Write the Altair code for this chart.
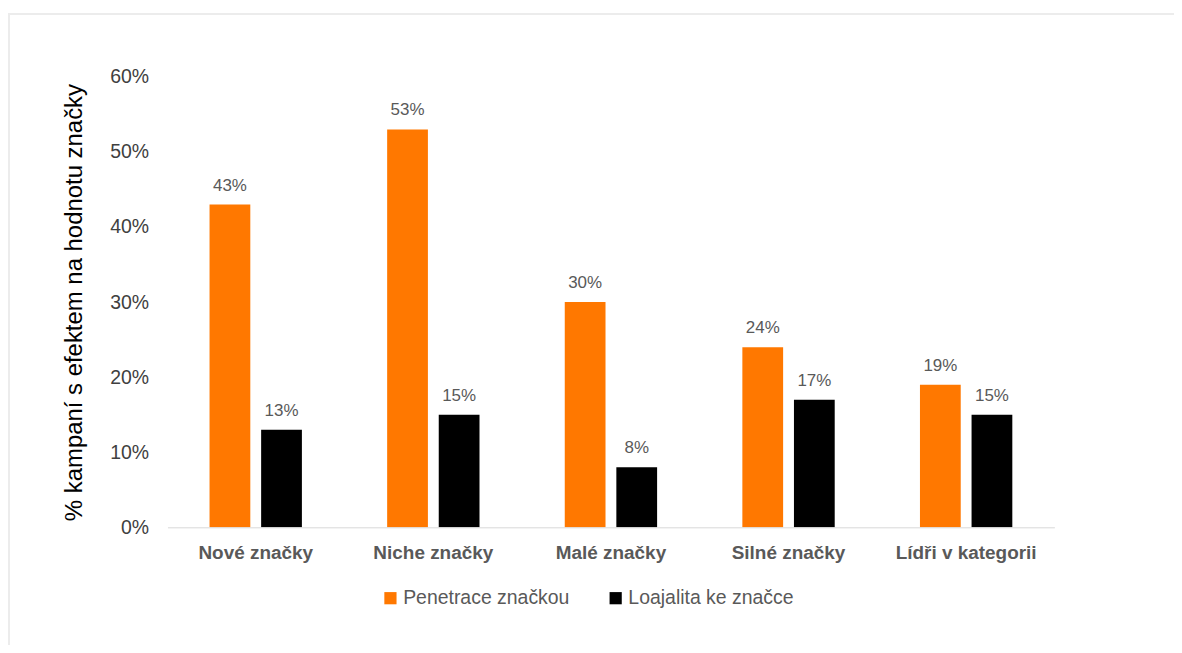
import altair as alt
import pandas as pd

categories = ["Nové značky", "Niche značky", "Malé značky", "Silné značky", "Lídři v kategorii"]
series = ["Penetrace značkou", "Loajalita ke značce"]
penetrace = [0.43, 0.53, 0.30, 0.24, 0.19]
loajalita = [0.13, 0.15, 0.08, 0.17, 0.15]
colors = ["#FF7800", "#000000"]

rows = []
for i, c in enumerate(categories):
    rows.append({"kategorie": c, "serie": series[0], "hodnota": penetrace[i]})
    rows.append({"kategorie": c, "serie": series[1], "hodnota": loajalita[i]})
df = pd.DataFrame(rows)

W, H = 890, 452

x_enc = alt.X("kategorie:N", sort=categories, title=None,
              scale=alt.Scale(paddingInner=0.48, paddingOuter=0.237),
              axis=alt.Axis(labelAngle=0, labelFontWeight="bold", labelFontSize=19,
                            labelColor="#595959", labelFont="Liberation Sans",
                            ticks=False, domainColor="#d9d9d9", domainWidth=1,
                            labelPadding=16, zindex=1))
xoff = alt.XOffset("serie:N", sort=series, scale=alt.Scale(paddingInner=0.21, paddingOuter=0))
y_enc = alt.Y("hodnota:Q", title="% kampaní s efektem na hodnotu značky",
              scale=alt.Scale(domain=[0, 0.6]),
              axis=alt.Axis(format=".0%", values=[0, 0.1, 0.2, 0.3, 0.4, 0.5, 0.6],
                            grid=False, domain=False, ticks=False,
                            labelFontSize=19.5, labelColor="#404040", labelFont="Liberation Sans",
                            labelPadding=19, titleFontSize=24, titleFontWeight="normal",
                            titleColor="#000000", titleFont="Liberation Sans",
                            titlePadding=23, zindex=1))

base = alt.Chart(df)

frame = alt.Chart(pd.DataFrame({"a": [0]})).mark_rect(
    fillOpacity=0, stroke="#ececec", strokeWidth=2
).encode(x=alt.value(-159), x2=alt.value(W + 400), y=alt.value(-63), y2=alt.value(H + 400))

bars = base.mark_bar().encode(
    x=x_enc,
    xOffset=xoff,
    y=y_enc,
    color=alt.Color("serie:N", sort=series,
                    scale=alt.Scale(domain=series, range=colors),
                    legend=alt.Legend(title=None, orient="none", direction="horizontal",
                                      legendX=214, legendY=513,
                                      symbolType="square", symbolSize=150,
                                      symbolStrokeWidth=0, labelFontSize=19.5,
                                      labelColor="#595959", labelFont="Liberation Sans",
                                      labelOffset=3, columnPadding=36, labelLimit=400)),
)

labels = base.mark_text(dy=-19, fontSize=17, color="#595959", font="Liberation Sans").encode(
    x=alt.X("kategorie:N", sort=categories),
    xOffset=alt.XOffset("serie:N", sort=series),
    y="hodnota:Q",
    text=alt.Text("hodnota:Q", format=".0%"),
)

chart = alt.layer(frame, bars, labels).properties(
    width=W, height=H,
    autosize=alt.AutoSizeParams(type="none"),
    padding={"left": 160, "top": 68, "right": 120, "bottom": 117},
).configure_view(stroke=None)

chart.save("out.html", embed_options={"renderer": "svg", "actions": False})
